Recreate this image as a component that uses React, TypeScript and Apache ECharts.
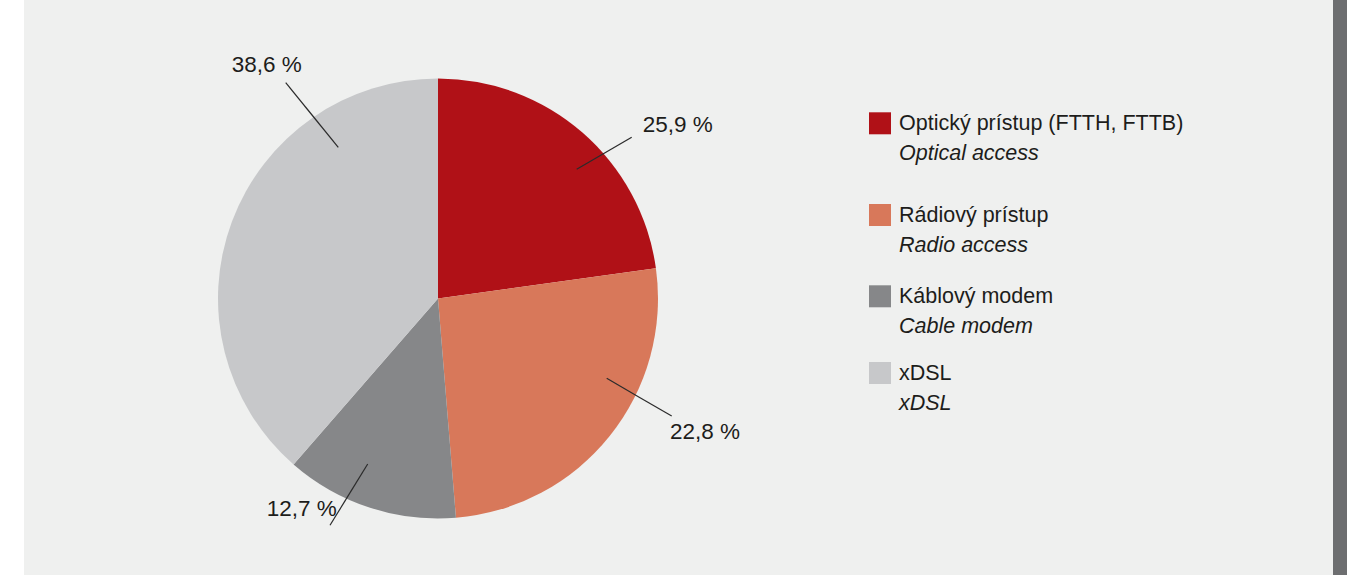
import React, { useEffect, useRef } from "react";
import * as echarts from "echarts";

// ---- data ----
const CATEGORIES = ["Optický prístup (FTTH, FTTB)", "Rádiový prístup", "Káblový modem", "xDSL"];
const CATEGORIES_EN = ["Optical access", "Radio access", "Cable modem", "xDSL"];
// slice sizes as drawn in the source picture
const SLICE_VALUES = [22.8, 25.9, 12.7, 38.6];
// percentages printed next to each slice in the source picture
const LABEL_VALUES = [25.9, 22.8, 12.7, 38.6];

// ---- styles / layout ----
const COLORS = ["#b01117", "#d8785a", "#868789", "#c7c8ca"];
const CX = 438;
const CY = 298.5;
const R = 220;
const FONT = "'Liberation Sans', Arial, sans-serif";
const TEXT_COLOR = "#1d1d1b";

// label line endpoints and label anchors, as offsets from the pie centre
const LABEL_GEOMETRY = [
  { line: [[138.7, -129.2], [193.7, -161.2]], text: [204.7, -173.8], align: "left" },
  { line: [[168.7, 79.8], [233.7, 117.5]], text: [232, 133.2], align: "left" },
  { line: [[-70.3, 165.5], [-108, 226.8]], text: [-101.3, 209.5], align: "right" },
  { line: [[-99.7, -151.2], [-152.3, -215.8]], text: [-206.3, -234.5], align: "left" },
];

const LEGEND_ICON_CENTERS = [123.3, 215, 296.3, 373];
const LINE_H = 30;
const ICON = 22;

const fmt = (v: number) => v.toFixed(1).replace(".", ",") + " %";

export default function App() {
  const ref = useRef<HTMLDivElement>(null);
  useEffect(() => {
    if (!ref.current) return;
    const chart = echarts.init(ref.current, undefined, { renderer: "svg" });

    const legends = CATEGORIES.map((name, i) => ({
      data: [name],
      orient: "vertical",
      left: 869,
      top: LEGEND_ICON_CENTERS[i] - ICON / 2,
      padding: 0,
      icon: "rect",
      itemWidth: ICON,
      itemHeight: ICON,
      selectedMode: false,
      formatter: (n: string) => `{a|${n}}\n{b|${CATEGORIES_EN[i]}}`,
      textStyle: {
        padding: [LINE_H, 0, 0, 3],
        rich: {
          a: { fontFamily: FONT, fontSize: 21.5, lineHeight: LINE_H, color: TEXT_COLOR },
          b: { fontFamily: FONT, fontSize: 21.5, lineHeight: LINE_H, color: TEXT_COLOR, fontStyle: "italic" },
        },
      },
    }));

    const pieData = CATEGORIES.map((name, i) => ({
      name,
      value: SLICE_VALUES[i],
      itemStyle: { color: COLORS[i] },
    }));

    chart.setOption({
      animation: false,
      backgroundColor: "#ffffff",
      graphic: [
        { type: "rect", shape: { x: 24, y: 0, width: 1309, height: 575 }, style: { fill: "#eff0ef" }, z: -10 },
        { type: "rect", shape: { x: 1333, y: 0, width: 14, height: 575 }, style: { fill: "#6d6e70" }, z: -10 },
      ],
      legend: legends,
      series: [
        {
          type: "pie",
          z: 2,
          center: [CX, CY],
          radius: R,
          startAngle: 90,
          clockwise: true,
          itemStyle: { borderWidth: 0 },
          emphasis: { disabled: true },
          data: pieData,
          label: { show: false },
          labelLine: { show: false },
        },
        {
          // transparent overlay carrying the labels so their leader lines sit above the slices
          type: "pie",
          z: 5,
          silent: true,
          center: [CX, CY],
          radius: R,
          startAngle: 90,
          clockwise: true,
          avoidLabelOverlap: false,
          itemStyle: { color: "rgba(0,0,0,0)", borderWidth: 0 },
          emphasis: { disabled: true },
          data: CATEGORIES.map((name, i) => ({ name, value: SLICE_VALUES[i] })),
          label: {
            show: true,
            position: "outside",
            formatter: (p: any) => fmt(LABEL_VALUES[p.dataIndex]),
            fontFamily: FONT,
            fontSize: 22.5,
            color: TEXT_COLOR,
          },
          labelLine: {
            show: true,
            length: 10,
            length2: 10,
            lineStyle: { color: "#2b2b2b", width: 1.2 },
          },
          labelLayout: (params: any) => {
            const g = LABEL_GEOMETRY[params.dataIndex];
            const s = [CX + g.line[0][0], CY + g.line[0][1]];
            const e = [CX + g.line[1][0], CY + g.line[1][1]];
            const m = [(s[0] + e[0]) / 2, (s[1] + e[1]) / 2];
            return {
              x: CX + g.text[0],
              y: CY + g.text[1],
              align: g.align,
              verticalAlign: "middle",
              labelLinePoints: [s, m, e],
            };
          },
        },
      ],
    });
    return () => chart.dispose();
  }, []);
  return (
    <div
      ref={ref}
      style={{ position: "fixed", left: 0, top: 0, width: 1347, height: 575 }}
    />
  );
}
